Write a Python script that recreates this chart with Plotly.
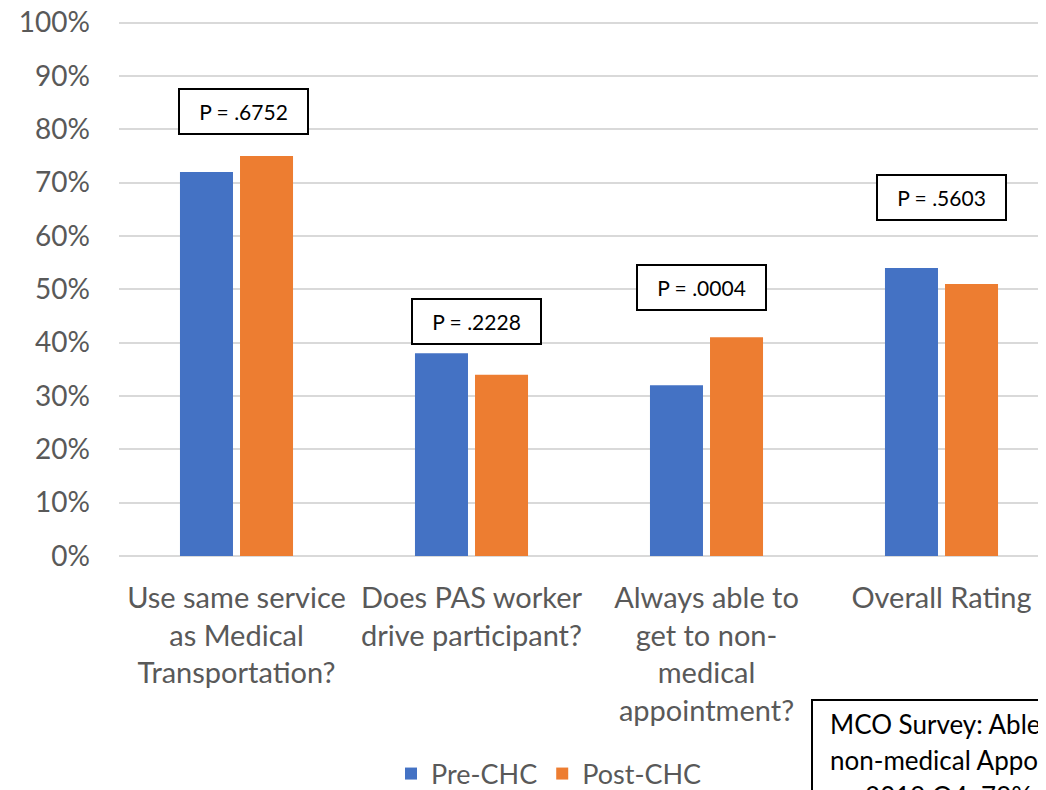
import plotly.graph_objects as go

categories = ["Use same service as Medical Transportation?",
              "Does PAS worker drive participant?",
              "Always able to get to non-medical appointment?",
              "Overall Rating"]
tick_labels = ["Use same service<br>as Medical<br>Transportation?",
               "Does PAS worker<br>drive participant?",
               "Always able to<br>get to non-<br>medical<br>appointment?",
               "Overall Rating"]
pre_chc = [72, 38, 32, 54]
post_chc = [75, 34, 41, 51]
p_values = ["P = .6752", "P = .2228", "P = .0004", "P = .5603"]
p_box_y = [83.4, 44.0, 50.3, 67.3]
p_box_x = [0.03, 1.02, 1.98, 3.0]
y_ticks = list(range(0, 101, 10))
y_tick_labels = [f"{v}%" for v in y_ticks]

FONT = "Lato, Carlito, Calibri, sans-serif"
GRAY = "#595959"

# The page body has an 8px default margin, so the figure is sized to fill the rest.
W, H = 1038, 782
L, T, B = 111, 13, 234
PW = W - L          # plot width in px
PH = H - T - B      # plot height in px
Y_TOP = 100.3

def px_x(x):  # screen x -> paper x
    return (x - 8 - L) / PW

def px_y(y):  # screen y -> paper y
    return (H - B - (y - 8)) / PH

fig = go.Figure()
fig.add_trace(go.Bar(name="Pre-CHC", x=list(range(4)), y=pre_chc,
                     marker=dict(color="#4472C4", line=dict(width=0))))
fig.add_trace(go.Bar(name="Post-CHC", x=list(range(4)), y=post_chc,
                     marker=dict(color="#ED7D31", line=dict(width=0))))

for xv, yv, txt in zip(p_box_x, p_box_y, p_values):
    fig.add_annotation(x=xv, y=yv, xref="x", yref="y", text=txt, showarrow=False,
                       font=dict(family=FONT, size=21, color="black"),
                       bordercolor="black", borderwidth=2, borderpad=3,
                       bgcolor="white", width=121, height=37)

# MCO survey text box (cut off at the right/bottom edge, as in the source)
fig.add_shape(type="rect", xref="paper", yref="paper",
              x0=px_x(812), x1=1.2, y0=px_y(700), y1=-0.6,
              line=dict(color="black", width=2), fillcolor="white", layer="above")
mco_lines = ["MCO Survey: Able to get to", "non-medical Appointment", "\u2022   2019 Q4: 79%"]
for i, line in enumerate(mco_lines):
    fig.add_annotation(xref="paper", yref="paper", x=px_x(828),
                       y=px_y(724 + 36 * i), xanchor="left", yanchor="middle",
                       text=line, showarrow=False,
                       font=dict(family=FONT, size=26, color="black"))

fig.update_layout(
    width=W, height=H,
    margin=dict(l=L, r=0, t=T, b=B, autoexpand=False),
    paper_bgcolor="white", plot_bgcolor="white",
    barmode="group", bargap=0.489, bargroupgap=0.117,
    font=dict(family=FONT, size=28, color=GRAY),
    legend=dict(orientation="h", x=px_x(549), xanchor="center", y=px_y(774), yanchor="middle",
                font=dict(family=FONT, size=27, color=GRAY), itemwidth=30),
    showlegend=True,
)
fig.update_xaxes(tickmode="array", tickvals=list(range(4)), ticktext=tick_labels,
                 range=[-0.5, -0.5 + PW / 235], showgrid=False, zeroline=False,
                 showline=False, ticks="", ticklabelstandoff=22, automargin=False,
                 tickfont=dict(family=FONT, size=29, color=GRAY))
fig.update_yaxes(range=[0, Y_TOP], tickmode="array", tickvals=y_ticks, ticktext=y_tick_labels,
                 showgrid=True, gridcolor="#D9D9D9", gridwidth=1.5,
                 zeroline=True, zerolinecolor="#D9D9D9", zerolinewidth=1.5,
                 showline=False, ticks="", ticklabelstandoff=28, automargin=False,
                 ticklabeloverflow="allow",
                 tickfont=dict(family=FONT, size=28, color=GRAY))

fig.write_html("out.html")
